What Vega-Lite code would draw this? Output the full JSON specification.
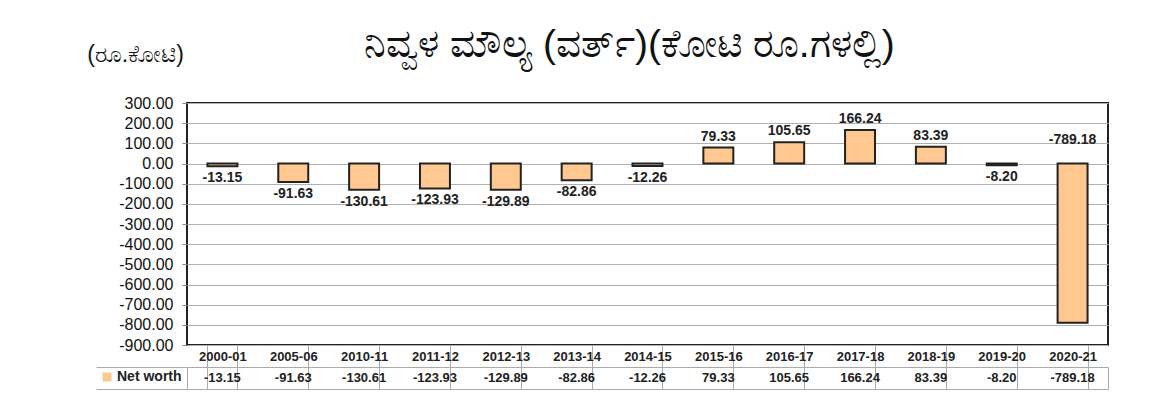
{
  "$schema": "https://vega.github.io/schema/vega-lite/v6.json",
  "autosize": {"type": "pad"},
  "padding": {"left": 85, "top": 26, "right": 5, "bottom": 5},
  "background": "white",
  "bounds": "flush",
  "spacing": 22,
  "title": {
    "text": "ನಿವ್ವಳ ಮೌಲ್ಯ (ವರ್ತ್)(ಕೋಟಿ ರೂ.ಗಳಲ್ಲಿ)",
    "anchor": "middle",
    "frame": "group",
    "fontSize": 39,
    "fontWeight": "normal",
    "color": "#111",
    "offset": -23,
    "dx": -18
  },
  "datasets": {
    "nw": [
      {"year": "2000-01", "series": "Net worth", "value": -13.15},
      {"year": "2005-06", "series": "Net worth", "value": -91.63},
      {"year": "2010-11", "series": "Net worth", "value": -130.61},
      {"year": "2011-12", "series": "Net worth", "value": -123.93},
      {"year": "2012-13", "series": "Net worth", "value": -129.89},
      {"year": "2013-14", "series": "Net worth", "value": -82.86},
      {"year": "2014-15", "series": "Net worth", "value": -12.26},
      {"year": "2015-16", "series": "Net worth", "value": 79.33},
      {"year": "2016-17", "series": "Net worth", "value": 105.65},
      {"year": "2017-18", "series": "Net worth", "value": 166.24},
      {"year": "2018-19", "series": "Net worth", "value": 83.39},
      {"year": "2019-20", "series": "Net worth", "value": -8.20},
      {"year": "2020-21", "series": "Net worth", "value": -789.18}
    ]
  },
  "resolve": {"scale": {"x": "shared", "y": "independent"}},
  "vconcat": [
    {
      "width": 921,
      "height": 242,
      "data": {"name": "nw"},
      "view": {"stroke": "#222", "strokeWidth": 2},
      "encoding": {
        "x": {
          "field": "year",
          "type": "nominal",
          "sort": null,
          "scale": {"type": "band", "paddingInner": 0.577, "paddingOuter": 0.2885},
          "axis": {
            "title": null,
            "orient": "bottom",
            "labelAngle": 0,
            "labelFont": "Liberation Sans",
            "labelFontSize": 13,
            "labelFontWeight": "bold",
            "labelColor": "#222",
            "labelBaseline": "middle",
            "labelPadding": -11,
            "tickBand": "extent",
            "tickSize": 22,
            "tickColor": "#aaa",
            "tickWidth": 1,
            "domain": false,
            "grid": false
          }
        },
        "y": {
          "field": "value",
          "type": "quantitative",
          "scale": {"domain": [-900, 300], "nice": false, "zero": false},
          "axis": {
            "values": [300, 200, 100, 0, -100, -200, -300, -400, -500, -600, -700, -800, -900],
            "format": ".2f",
            "labelOverlap": false,
            "labelFont": "Liberation Sans",
            "labelFontSize": 16,
            "labelColor": "#111",
            "labelPadding": 9,
            "labelBaseline": "middle",
            "tickSize": 5,
            "tickColor": "#888",
            "domain": false,
            "grid": true,
            "gridColor": "#b0b0b0",
            "gridWidth": 1,
            "title": "(ರೂ.ಕೋಟಿ)",
            "titleAngle": 0,
            "titleAlign": "center",
            "titleBaseline": "middle",
            "titleFontSize": 23,
            "titleFontWeight": "normal",
            "titleColor": "#111",
            "titleX": -52,
            "titleY": -49
          }
        }
      },
      "layer": [
        {
          "mark": {"type": "bar", "stroke": "#222", "strokeWidth": 2},
          "encoding": {
            "color": {
              "field": "series",
              "type": "nominal",
              "scale": {"domain": ["Net worth"], "range": ["#FFC890"]},
              "legend": {
                "orient": "none",
                "legendX": -87,
                "legendY": 267,
                "title": null,
                "symbolType": "square",
                "symbolSize": 81,
                "symbolStrokeWidth": 0,
                "labelFont": "Liberation Sans",
                "labelFontSize": 14,
                "labelFontWeight": "bold",
                "labelColor": "#222",
                "labelOffset": 3,
                "padding": 0
              }
            }
          }
        },
        {
          "mark": {"type": "rule", "color": "#111", "strokeWidth": 1},
          "encoding": {"y": {"datum": 0, "type": "quantitative"}}
        },
        {
          "transform": [{"filter": "datum.value >= 0"}],
          "mark": {"type": "text", "baseline": "bottom", "dy": -4, "font": "Liberation Sans", "fontSize": 14, "fontWeight": "bold", "color": "#222"},
          "encoding": {
            "text": {"field": "value", "type": "quantitative", "format": ".2f"}
          }
        },
        {
          "transform": [{"filter": "datum.value < 0 && datum.value > -500"}],
          "mark": {"type": "text", "baseline": "top", "dy": 5, "font": "Liberation Sans", "fontSize": 14, "fontWeight": "bold", "color": "#222"},
          "encoding": {
            "text": {"field": "value", "type": "quantitative", "format": ".2f"}
          }
        },
        {
          "transform": [{"filter": "datum.value <= -500"}],
          "mark": {"type": "text", "baseline": "bottom", "dy": -17, "font": "Liberation Sans", "fontSize": 14, "fontWeight": "bold", "color": "#222"},
          "encoding": {
            "y": {"datum": 0, "type": "quantitative"},
            "text": {"field": "value", "type": "quantitative", "format": ".2f"}
          }
        }
      ]
    },
    {
      "width": 921,
      "height": 22,
      "data": {"name": "nw"},
      "view": {"stroke": "#aaa", "strokeWidth": 1},
      "mark": {"type": "text", "font": "Liberation Sans", "fontSize": 13, "fontWeight": "bold", "color": "#222", "baseline": "middle"},
      "encoding": {
        "x": {
          "field": "year",
          "type": "nominal",
          "sort": null,
          "scale": {"type": "band", "paddingInner": 0.577, "paddingOuter": 0.2885},
          "axis": {
            "title": null,
            "orient": "bottom",
            "labels": false,
            "ticks": false,
            "domain": false,
            "grid": true,
            "gridColor": "#aaa",
            "gridWidth": 1,
            "tickBand": "extent"
          }
        },
        "y": {
          "field": "series",
          "type": "nominal",
          "axis": {
            "title": null,
            "labels": false,
            "ticks": true,
            "tickBand": "extent",
            "tickSize": 91,
            "tickColor": "#aaa",
            "tickWidth": 1,
            "domain": false
          }
        },
        "text": {"field": "value", "type": "quantitative", "format": ".2f"}
      }
    }
  ],
  "config": {
    "locale": {
      "number": {"decimal": ".", "thousands": ",", "grouping": [3], "currency": ["$", ""], "minus": "-"}
    },
    "font": "Liberation Sans",
    "axisY": {"labelOverlap": false},
    "axisQuantitative": {"labelOverlap": false}
  }
}
